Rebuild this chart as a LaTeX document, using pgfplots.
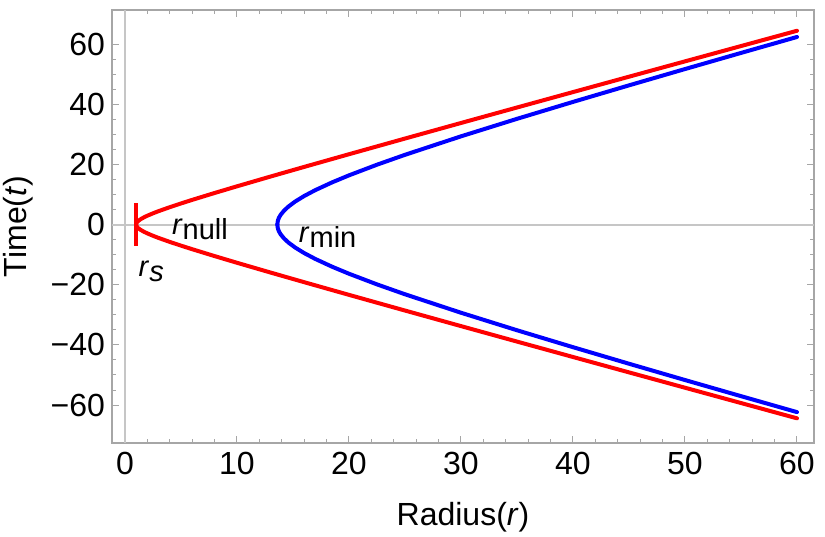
\documentclass[border=0pt]{standalone}
\usepackage{fontspec}
\setmainfont{Liberation Sans}
\usepackage{pgfplots}
\pgfplotsset{compat=1.18}
\usepackage{pgfplotstable}

\pgfplotstableread{
r t
1 0
1.01 0.272
1.05 0.610
1.1 0.866
1.2 1.236
1.4 1.777
1.7 2.408
2 2.944
2.5 3.733
3 4.450
4 5.771
5 7.008
6 8.196
8 10.484
10 12.704
13 15.958
16 19.156
20 23.368
25 28.579
30 33.750
35 38.894
40 44.019
45 49.129
50 54.227
55 59.315
60 64.396
}\rednull

\pgfplotstableread{
r t
13.6 0
13.65 1.322
13.75 2.293
13.9 3.250
14.2 4.617
14.6 5.997
15.2 7.653
16 9.483
17 11.448
18.5 14.027
20 16.348
22.5 19.886
25 23.170
30 29.311
35 35.127
40 40.752
45 46.255
50 51.672
55 57.027
60 62.334
}\bluemin

\begin{document}
\begin{tikzpicture}
\begin{axis}[
  scale only axis, width=351pt, height=216.5pt,
  at={(0,0)}, anchor=south west,
  xmin=-1.16, xmax=61.52, ymin=-72.6, ymax=71.3,
  axis line style={draw=gray!70, line width=0.6pt},
  xtick={0,10,20,30,40,50,60},
  xticklabels={0,10,20,30,40,50,60},
  ytick={-60,-40,-20,0,20,40,60},
  yticklabels={−60,−40,−20,0,20,40,60},
  minor x tick num=4, minor y tick num=3,
  tick style={draw=gray!70, line width=0.5pt},
  major tick length=3.5pt, minor tick length=2pt,
  tick align=inside,
  ticklabel style={font=\fontsize{16}{19}\selectfont, text=black},
  xticklabel style={yshift=-1pt},
  xlabel={Radius(\textit{r})},
  ylabel={Time(\textit{t})},
  every axis x label/.style={at={(axis description cs:0.5,0)}, anchor=base, yshift=-41pt, font=\fontsize{16}{19}\selectfont},
  every axis y label/.style={at={(axis description cs:0,0.5)}, xshift=-42.5pt, rotate=90, anchor=base, font=\fontsize{16}{19}\selectfont},
  clip=true,
]
\draw[gray!45, line width=1pt] (axis cs:0,-72.6) -- (axis cs:0,71.3);
\draw[gray!45, line width=1pt] (axis cs:-1.16,0) -- (axis cs:61.52,0);

\addplot[blue, line width=2pt, line join=round, line cap=round] table[x=r, y=t] {\bluemin};
\addplot[blue, line width=2pt, line join=round, line cap=round] table[x=r, y expr=-\thisrow{t}] {\bluemin};
\addplot[red, line width=2pt, line join=round, line cap=round] table[x=r, y=t] {\rednull};
\addplot[red, line width=2pt, line join=round, line cap=round] table[x=r, y expr=-\thisrow{t}] {\rednull};
\addplot[red, line width=2pt] coordinates {(1,-7) (1,7)};

\node[anchor=base west, inner sep=0pt, font=\fontsize{14.5}{17}\selectfont] at (axis cs:4.17,-3.3) {\textit{r}\raisebox{-2.5pt}{null}};
\node[anchor=base west, inner sep=0pt, font=\fontsize{14.5}{17}\selectfont] at (axis cs:15.5,-5.9) {\textit{r}\raisebox{-2.5pt}{min}};
\node[anchor=base west, inner sep=0pt, font=\fontsize{14.5}{17}\selectfont] at (axis cs:1.19,-17.2) {\textit{r}\raisebox{-2.5pt}{\textit{s}}};
\end{axis}
\pgfresetboundingbox
\path (-56pt,-46.5pt) rectangle (356.5pt,221.5pt);
\end{tikzpicture}
\end{document}
